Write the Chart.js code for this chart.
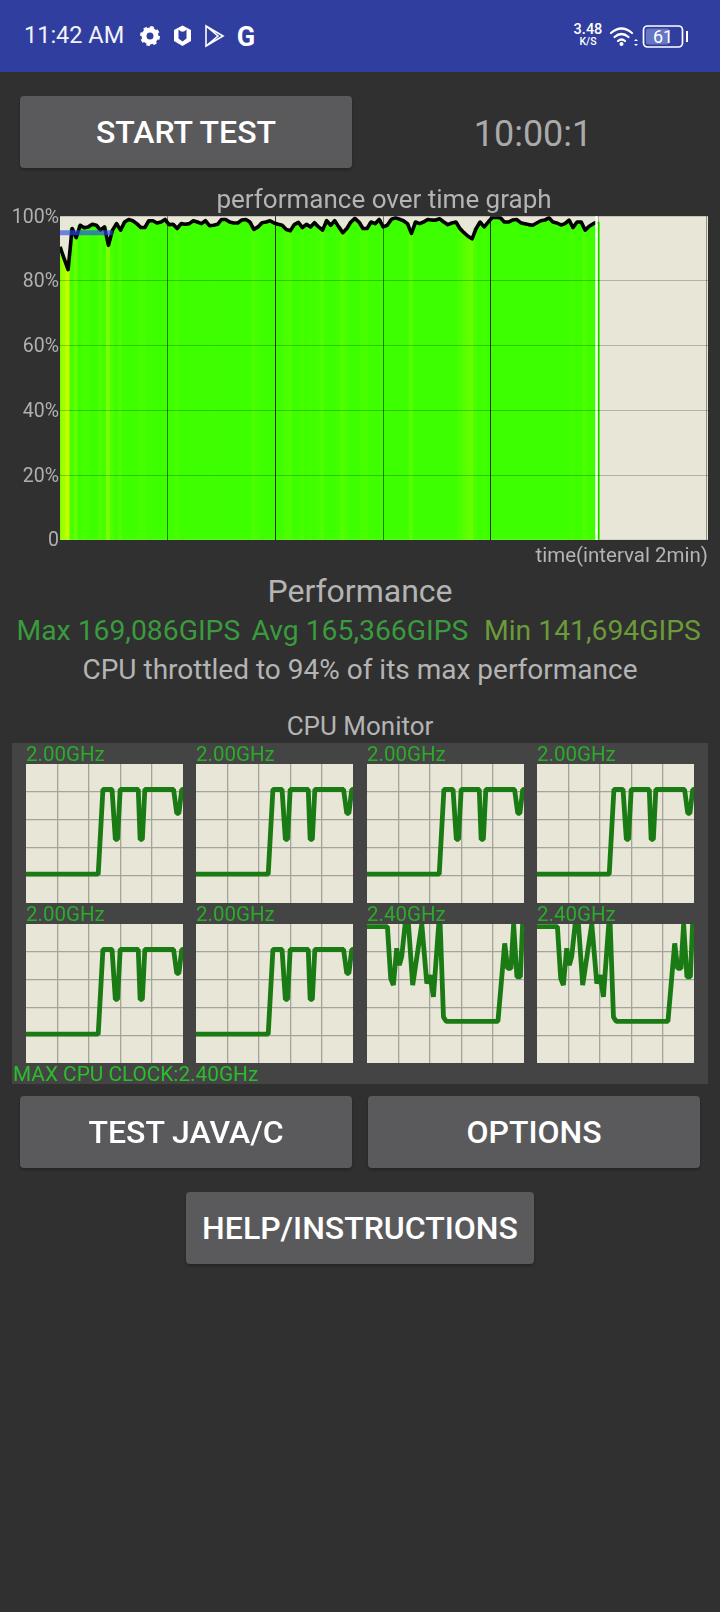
<!DOCTYPE html>
<html><head><meta charset="utf-8">
<script src="https://cdn.jsdelivr.net/npm/chart.js@4"></script>
<style>
html,body{margin:0;padding:0;background:#303030;width:720px;height:1612px;overflow:hidden;font-family:Roboto,sans-serif}
.a{position:absolute;white-space:nowrap;line-height:1}
.c{transform:translate(-50%,-50%)}
.l{transform:translateY(-50%)}
.btn{position:absolute;background:#5a5a5c;border-radius:4px;color:#fff;font-weight:500;font-size:32px;display:flex;align-items:center;justify-content:center;box-shadow:0 2px 3px rgba(0,0,0,.25)}
canvas{position:absolute}
</style></head><body>
<div class="a" style="left:0;top:0;width:720px;height:72px;background:#303f9f"></div>
<div class="a l" style="left:24px;top:36px;font-size:23.500px;color:#f2f2f8">11:42 AM</div>
<svg class="a" style="left:0;top:0" width="720" height="72">
  <g fill="none" stroke="#fff">
    <circle cx="150" cy="36" r="6" stroke-width="5"/>
    <circle cx="150" cy="36" r="8.5" stroke-width="3" stroke-dasharray="3.4 3.27"/>
    <path d="M174 30 l8.500 -4.500 l8.500 4.500 v11 l-8.500 5 l-8.500 -5 z" fill="#fff" stroke="none"/>
    <path d="M178.500 29.500 q4 4.500 8 0 v9 l-4 3 l-4 -3 z" fill="#303f9f" stroke="none"/>
    <path d="M206 26 v20 l17 -10 z M206 26 l12 10 l-12 10" stroke-width="1.600"/>
  </g>
  <text x="246" y="46" font-family="Roboto" font-weight="700" font-size="27" fill="#fff" text-anchor="middle">G</text>
  <text x="588" y="34" font-family="Roboto" font-weight="500" font-size="14.500" fill="#fff" text-anchor="middle">3.48</text>
  <text x="588" y="45" font-family="Roboto" font-weight="500" font-size="10.500" fill="#fff" text-anchor="middle">K/S</text>
  <g fill="none" stroke="#fff" stroke-width="2.200" stroke-linecap="round">
    <path d="M611 33 q10.500 -9 21 0"/><path d="M614.500 37 q7 -6 14 0"/><path d="M618 41 q3.500 -3 7 0"/>
  </g>
  <circle cx="621.500" cy="44" r="2" fill="#fff"/>
  <path d="M634 41 l2 -2 l2 2 z M634 44 l2 2 l2 -2 z" fill="#fff"/>
  <rect x="643.500" y="26" width="39" height="21" rx="4" fill="none" stroke="#fff" stroke-width="1.700"/>
  <rect x="646" y="28.500" width="23" height="16" rx="2" fill="#6676c4"/>
  <rect x="686" y="31" width="2" height="11" fill="#fff"/>
  <text x="663" y="43" font-family="Roboto" font-size="18" fill="#fff" text-anchor="middle">61</text>
</svg>

<div class="btn" style="left:20px;top:96px;width:332px;height:72px">START TEST</div>
<div class="a c" style="left:533px;top:134px;font-size:36px;color:#aaaaaa">10:00:1</div>

<canvas id="perf" style="left:0;top:185px"></canvas>

<div class="a c" style="left:360px;top:591px;font-size:32px;color:#b4b4b4">Performance</div>
<div class="a l" style="left:16.500px;top:631px;font-size:28.300px;color:#3a9a3e">Max 169,086GIPS</div>
<div class="a l" style="left:251.500px;top:631px;font-size:28.300px;color:#3a9a3e">Avg 165,366GIPS</div>
<div class="a l" style="left:484px;top:631px;font-size:28.300px;color:#6b9a3a">Min 141,694GIPS</div>
<div class="a c" style="left:360px;top:670px;font-size:28px;color:#b4b4b4">CPU throttled to 94% of its max performance</div>
<div class="a c" style="left:360px;top:726px;font-size:26px;color:#b4b4b4">CPU Monitor</div>

<div class="a" style="left:12px;top:743px;width:696px;height:341px;background:#444444"></div>
<canvas id="c0"></canvas><canvas id="c1"></canvas><canvas id="c2"></canvas><canvas id="c3"></canvas>
<canvas id="c4"></canvas><canvas id="c5"></canvas><canvas id="c6"></canvas><canvas id="c7"></canvas>
<div class="a l" style="left:13px;top:1074px;font-size:20.800px;color:#2bbd2b">MAX CPU CLOCK:2.40GHz</div>

<div class="btn" style="left:20px;top:1096px;width:332px;height:72px">TEST JAVA/C</div>
<div class="btn" style="left:368px;top:1096px;width:332px;height:72px">OPTIONS</div>
<div class="btn" style="left:186px;top:1192px;width:348px;height:72px">HELP/INSTRUCTIONS</div>

<script>
// performance over time, percent of max, one reading per sample
const perfValues = [
90.5,87,83.5,96.2,93.4,97.2,96.4,96.7,97.5,97.2,95.7,96.7,91,95.7,97.7,95.7,98.2,99,98.6,97.7,
96.5,96.5,98.6,98.6,97.9,98.2,99,97.4,97.5,96.2,97.7,97.5,97.7,98.6,98.2,97.7,98.6,97.1,97.2,97.5,
99,99,98.2,97.9,97.9,98.8,99,98.2,95.9,96.7,98,98.2,98.6,97.9,97.5,97.2,95.9,95.5,97.4,98.1,
96.5,97.5,96.7,98,96.7,95.7,98.6,97.2,98.6,96.7,94.9,96.2,98.2,99.3,98.2,
96.2,96.2,98.2,97.7,99,96.7,97.2,99,99.5,99.1,98.6,97.7,94.7,98.2,97.7,98.2,99,98.8,98.8,99.2,
98.2,97.4,97.9,98.2,96.2,94.9,93.8,93,96.2,98.2,96.7,98.2,99.6,99.6,99.5,98.2,98.2,98.8,99,98,
97.7,97.4,97.2,97.9,98.6,98.8,99.5,98.2,97.9,97.3,97.7,98.8,96.5,98.2,98.2,95.7,96.9,97.7,98.2];
const sampleMinutes = perfValues.map((_, i) => i * 0.075);
const throttleMinutes = [0, 0.98];
const throttleLevel = [94.9, 94.9];
const progressMinute = 9.96;
const xTickMinutes = [0,2,4,6,8,10,12];
const yTickLabels = {100:'100%',80:'80%',60:'60%',40:'40%',20:'20%',0:'0'};

// CPU clock traces: position across the window (%) and GHz
const littleX = [0,46,49,54.8,56.9,58.3,60,71.5,72.7,74.1,75.7,94,96,97.4,99.2,100];
const littleGHz = [0.5,0.5,1.96,1.96,1.1,1.1,1.96,1.96,1.1,1.1,1.96,1.96,1.55,1.55,1.96,1.96];
const bigX = [0,13,15.1,16.8,18.9,20.6,22.1,24.3,26.4,29.1,34.9,38.1,40.2,42.3,45.7,46.6,48.7,50.4,83.4,87.7,89.6,91.7,93.4,95.5,97.7,99.1,100];
const bigGHz = [2.354,2.354,1.46,1.344,1.98,1.69,1.835,2.4,2.4,1.344,2.4,1.373,1.517,1.142,2.4,2.4,0.796,0.72,0.72,2.065,1.633,1.633,2.4,1.488,1.488,2.4,2.3];
const coreLabels = ['2.00GHz','2.00GHz','2.00GHz','2.00GHz','2.00GHz','2.00GHz','2.40GHz','2.40GHz'];
const coreCols = [26,196.3,367,537.3,26,196.3,367,537.3];
const coreRows = [0,0,0,0,1,1,1,1];

Chart.defaults.font.family = 'Roboto';
Chart.defaults.animation = false;

const plotBg = {
  id:'plotBg',
  beforeDraw(c){const a=c.chartArea,x=c.ctx;x.save();x.fillStyle='#e8e6d6';x.fillRect(a.left,a.top,a.right-a.left,a.bottom-a.top);x.restore();}
};
const marker = {
  id:'marker',
  afterDatasetsDraw(c){const a=c.chartArea,x=c.ctx,p=c.scales.x.getPixelForValue(progressMinute);
    x.save();x.strokeStyle='#ffffff';x.lineWidth=2.5;x.beginPath();x.moveTo(p,a.top);x.lineTo(p,a.bottom);x.stroke();x.restore();}
};
const barColor = v => 'rgb(' + Math.max(62, Math.min(200, Math.round(64 + (97 - v) * 9.7))) + ',255,0)';
const tickVal = c => c.tick ? c.tick.value : null;

const canvas = document.getElementById('perf');
canvas.width = 720; canvas.height = 384; canvas.style.width='720px'; canvas.style.height='384px';
new Chart(canvas, {
  type:'bar',
  data:{datasets:[
    {type:'line',order:1,label:'throttle',data:throttleMinutes.map((t,i)=>({x:t,y:throttleLevel[i]})),borderColor:'rgba(45,70,240,.65)',borderWidth:5,pointRadius:0},
    {type:'line',order:2,label:'performance',data:perfValues.map((v,i)=>({x:sampleMinutes[i],y:v})),borderColor:'#000',borderWidth:3.6,pointRadius:0,tension:0,borderJoinStyle:'round'},
    {type:'bar',order:3,label:'fill',data:perfValues.map((v,i)=>({x:sampleMinutes[i],y:v})),backgroundColor:perfValues.map(barColor),barThickness:4.6,grouped:false}
  ]},
  options:{
    responsive:false,maintainAspectRatio:false,devicePixelRatio:1,
    layout:{padding:{left:0,right:12,top:0,bottom:0}},
    plugins:{legend:{display:false},tooltip:{enabled:false},
      title:{display:true,text:'performance over time graph',fullSize:false,color:'#b4b4b4',font:{size:26,weight:'normal'},padding:{top:1,bottom:-1}}},
    scales:{
      x:{type:'linear',offset:false,min:0,max:12.03,
        afterBuildTicks:s=>{s.ticks=xTickMinutes.map(value=>({value}));},
        ticks:{display:false,stepSize:2},border:{display:false},
        grid:{z:1,offset:false,drawTicks:false,lineWidth:1,color:c=>{const v=tickVal(c);return v===null||v===0?'rgba(0,0,0,0)':(v===4||v===8)?'rgba(0,0,0,.8)':v===12?'rgba(0,0,0,.38)':v===10?'rgba(0,0,0,.25)':'rgba(0,0,0,.5)';}},
        title:{display:true,text:'time(interval 2min)',align:'end',color:'#b4b4b4',font:{size:20.5},padding:{top:4.500,bottom:0}}},
      y:{min:0,max:100,afterFit:s=>{s.width=60;},
        ticks:{stepSize:20,padding:1,labelOffset:1.5,color:'#b0b0b0',font:{size:19.5},callback:v=>yTickLabels[v]},border:{display:false},
        grid:{z:1,drawTicks:false,lineWidth:1,color:c=>{const v=tickVal(c);return v===null||v===0||v===100?'rgba(0,0,0,0)':'rgba(0,0,0,.22)';}}}
    }
  },
  plugins:[plotBg,marker]
});

const edgeHidden = c => (c.tick===undefined || tickVal(c)===c.scale.min || tickVal(c)===c.scale.max) ? 'rgba(0,0,0,0)' : '#a4a49c';
coreLabels.forEach((label,i)=>{
  const big = label==='2.40GHz';
  const xs = big?bigX:littleX, ys = big?bigGHz:littleGHz;
  const cv = document.getElementById('c'+i);
  const h = 164, top = (coreRows[i]===0?903:1063) - h;
  cv.width=157; cv.height=h;
  cv.style.left=coreCols[i]+'px'; cv.style.top=top+'px'; cv.style.width='157px'; cv.style.height=h+'px';
  new Chart(cv,{
    type:'line',
    data:{datasets:[{data:xs.map((x,j)=>({x,y:ys[j]})),borderColor:'#1a7a14',borderWidth:4.8,pointRadius:0,tension:0,borderJoinStyle:'bevel',clip:0}]},
    options:{
      responsive:false,maintainAspectRatio:false,devicePixelRatio:1,layout:{padding:0},
      plugins:{legend:{display:false},tooltip:{enabled:false},
        title:{display:true,text:label,align:'start',color:'#2bab2b',font:{size:20.5,weight:'normal'},padding:{top:4.4,bottom:-4}}},
      scales:{
        x:{type:'linear',min:0,max:100,ticks:{display:false,stepSize:20},border:{display:false},grid:{drawTicks:false,lineWidth:1.3,color:edgeHidden}},
        y:{min:0,max:2.4,ticks:{display:false,stepSize:0.48},border:{display:false},grid:{drawTicks:false,lineWidth:1.3,color:edgeHidden}}
      }
    },
    plugins:[plotBg]
  });
});
</script>
</body></html>
